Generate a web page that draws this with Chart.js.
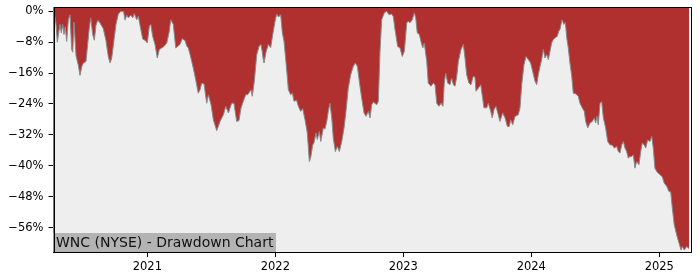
<!DOCTYPE html>
<html>
<head>
<meta charset="utf-8">
<script src="https://cdn.jsdelivr.net/npm/chart.js@4"></script>
<style>
html,body{margin:0;padding:0;background:#fff;}
canvas{display:block;}
</style>
</head>
<body>
<canvas id="c" width="700" height="280"></canvas>
<script>
// Dates as fractional years
const dates = [
2020.271,2020.279,2020.287,2020.297,2020.308,2020.318,2020.328,2020.339,2020.349,2020.359,
2020.370,2020.383,2020.396,2020.409,2020.417,2020.427,2020.443,2020.461,2020.474,2020.488,
2020.500,2020.521,2020.531,2020.547,2020.558,2020.573,2020.586,2020.599,2020.613,2020.630,
2020.656,2020.677,2020.695,2020.709,2020.722,2020.740,2020.755,2020.773,2020.792,2020.808,
2020.814,2020.826,2020.839,2020.852,2020.870,2020.886,2020.898,2020.917,2020.930,2020.948,
2020.964,2020.982,2021.000,2021.016,2021.027,2021.042,2021.060,2021.078,2021.094,2021.113,
2021.130,2021.152,2021.170,2021.183,2021.203,2021.222,2021.240,2021.255,2021.273,2021.295,
2021.308,2021.320,2021.334,2021.347,2021.359,2021.378,2021.398,2021.412,2021.425,2021.443,
2021.464,2021.477,2021.498,2021.516,2021.542,2021.555,2021.568,2021.594,2021.613,2021.633,
2021.659,2021.677,2021.698,2021.716,2021.732,2021.750,2021.769,2021.787,2021.810,2021.820,
2021.836,2021.855,2021.873,2021.888,2021.898,2021.906,2021.912,2021.927,2021.945,2021.964,
2021.980,2021.998,2022.011,2022.025,2022.042,2022.055,2022.068,2022.084,2022.102,2022.120,
2022.134,2022.146,2022.166,2022.180,2022.198,2022.214,2022.232,2022.250,2022.266,2022.277,
2022.292,2022.302,2022.318,2022.328,2022.344,2022.355,2022.375,2022.388,2022.402,2022.414,
2022.427,2022.441,2022.453,2022.469,2022.484,2022.500,2022.519,2022.537,2022.552,2022.570,
2022.589,2022.609,2022.625,2022.641,2022.656,2022.675,2022.693,2022.709,2022.727,2022.740,
2022.753,2022.766,2022.792,2022.805,2022.818,2022.831,2022.852,2022.870,2022.888,2022.909,
2022.922,2022.935,2022.956,2022.974,2022.992,2023.008,2023.027,2023.039,2023.052,2023.070,
2023.086,2023.097,2023.109,2023.125,2023.138,2023.152,2023.164,2023.183,2023.195,2023.216,
2023.234,2023.248,2023.261,2023.279,2023.295,2023.310,2023.320,2023.331,2023.347,2023.365,
2023.378,2023.391,2023.404,2023.417,2023.430,2023.451,2023.469,2023.482,2023.495,2023.513,
2023.529,2023.547,2023.560,2023.568,2023.586,2023.605,2023.620,2023.630,2023.652,2023.664,
2023.683,2023.695,2023.709,2023.724,2023.742,2023.755,2023.777,2023.795,2023.813,2023.828,
2023.839,2023.855,2023.873,2023.898,2023.912,2023.925,2023.943,2023.959,2023.977,2023.995,
2024.011,2024.029,2024.042,2024.055,2024.068,2024.081,2024.094,2024.107,2024.120,2024.133,
2024.146,2024.159,2024.172,2024.185,2024.203,2024.214,2024.224,2024.240,2024.255,2024.266,
2024.277,2024.289,2024.302,2024.316,2024.328,2024.349,2024.367,2024.380,2024.398,2024.414,
2024.425,2024.441,2024.459,2024.477,2024.492,2024.503,2024.513,2024.523,2024.537,2024.550,
2024.563,2024.581,2024.597,2024.615,2024.633,2024.648,2024.667,2024.680,2024.693,2024.706,
2024.719,2024.732,2024.745,2024.758,2024.771,2024.784,2024.797,2024.810,2024.823,2024.841,
2024.855,2024.867,2024.883,2024.894,2024.909,2024.927,2024.941,2024.953,2024.966,2024.980,
2025.005,2025.023,2025.039,2025.058,2025.076,2025.089,2025.102,2025.117,2025.136,2025.154,
2025.170,2025.180,2025.195,2025.214,2025.232
];
// Drawdown in percent
const drawdown = [
-0.4,-1.5,-3.4,-8.0,-5.5,-3.4,-5.6,-3.4,-6.0,-4.0,
-7.8,-2.2,-0.9,-9.9,-10.6,-2.8,-11.5,-14.0,-16.6,-14.3,
-13.4,-13.0,-9.5,-4.2,-1.7,-6.0,-7.5,-3.6,-2.3,-3.0,
-4.5,-7.6,-11.7,-13.4,-12.1,-7.3,-3.4,-0.8,0,-0.1,
0,-2.3,-1.0,-1.7,-1.0,-1.7,-0.6,-2.2,-1.3,-4.5,
-7.2,-7.5,-8.2,-3.8,-3.4,-6.5,-8.6,-12.1,-9.9,-9.5,
-9.1,-8.2,-5.5,-2.2,-3.4,-9.5,-9.0,-8.6,-7.1,-7.6,
-9.0,-9.5,-11.2,-13.0,-14.7,-17.7,-21.2,-20.3,-18.6,-18.8,
-23.8,-21.6,-24.2,-28.1,-30.9,-29.8,-28.5,-26.8,-24.6,-26.3,
-23.8,-23.8,-28.5,-28.3,-25.0,-23.3,-21.6,-21.5,-20.3,-22.0,
-18.1,-11.2,-9.1,-8.6,-10.5,-12.5,-13.4,-10.6,-8.6,-9.4,
-6.0,-2.6,-0.7,-1.5,-0.9,-5.6,-7.8,-13.4,-20.3,-21.6,
-21.2,-23.3,-23.0,-24.6,-25.9,-25.2,-28.1,-31.5,-38.9,-37.8,
-34.6,-34.0,-31.5,-33.2,-31.1,-33.7,-30.2,-30.5,-28.5,-25.9,
-23.8,-27.6,-32.8,-36.3,-35.0,-36.3,-33.7,-30.2,-25.9,-19.9,
-16.4,-14.3,-13.4,-14.3,-18.1,-22.5,-26.3,-27.2,-25.9,-27.6,
-24.2,-23.5,-24.2,-23.3,-10.4,-2.2,-0.4,0,-0.9,-0.7,
-1.4,-4.7,-9.1,-9.5,-11.7,-10.4,-3.0,-2.6,-3.0,-2.2,
-0.4,-1.7,-5.6,-6.0,-7.8,-9.5,-8.2,-13.0,-18.6,-19.4,
-18.6,-19.0,-23.8,-24.6,-23.8,-24.6,-18.6,-16.0,-18.6,-19.0,
-17.3,-19.0,-19.4,-17.0,-13.0,-9.9,-8.6,-12.1,-16.4,-18.6,
-19.0,-16.8,-17.0,-20.7,-19.9,-19.0,-22.5,-25.0,-25.0,-23.8,
-25.9,-27.6,-25.4,-24.6,-26.8,-28.5,-26.3,-27.6,-29.8,-29.8,
-28.1,-29.4,-27.2,-26.8,-25.0,-19.0,-13.8,-11.7,-12.5,-13.4,
-15.6,-18.1,-19.0,-16.4,-14.3,-12.5,-9.9,-12.1,-11.2,-12.5,
-10.4,-8.2,-7.3,-6.9,-6.5,-5.2,-4.7,-2.2,-3.4,-2.9,
-6.9,-9.5,-13.4,-16.8,-21.2,-21.4,-22.0,-23.8,-25.0,-25.9,
-28.5,-30.2,-28.9,-28.5,-27.6,-28.9,-27.2,-29.4,-23.8,-23.4,
-27.6,-30.2,-33.7,-34.6,-34.6,-35.4,-35.0,-36.3,-36.7,-34.6,
-33.7,-35.4,-36.3,-38.0,-37.6,-37.6,-37.2,-40.6,-38.9,-39.7,
-36.3,-34.1,-34.6,-35.4,-33.3,-33.7,-32.4,-35.4,-40.6,-41.5,
-42.3,-42.8,-44.5,-45.3,-46.7,-46.7,-51.0,-55.3,-57.9,-60.0,
-61.8,-60.9,-61.8,-60.9,-61.4
];
const xTicks = [2021, 2022, 2023, 2024, 2025];
const xTickLabels = ['2021', '2022', '2023', '2024', '2025'];
const yTicks = [0, -8, -16, -24, -32, -40, -48, -56];
const yTickLabels = ['0%', '\u22128%', '\u221216%', '\u221224%', '\u221232%', '\u221240%', '\u221248%', '\u221256%'];
const xRange = [2020.267, 2025.240];
const yRange = [-62.3, 1.1];
const titleText = 'WNC (NYSE) - Drawdown Chart';

const points = dates.map((d, i) => ({x: d, y: drawdown[i]}));

const bgPlugin = {
  id: 'bgPlugin',
  beforeDatasetsDraw(chart) {
    const {ctx, chartArea: a} = chart;
    ctx.save();
    ctx.fillStyle = '#eeeeee';
    ctx.fillRect(a.left, a.top, a.right - a.left, a.bottom - a.top);
    ctx.restore();
  },
  afterDatasetsDraw(chart) {
    const {ctx, chartArea: a} = chart;
    ctx.save();
    // title box
    ctx.font = '14px "DejaVu Sans"';
    const tw = ctx.measureText(titleText).width;
    const bh = 19;
    ctx.fillStyle = '#b3b3b3';
    ctx.fillRect(a.left, a.bottom - bh, tw + 5, bh);
    ctx.fillStyle = '#111';
    ctx.textBaseline = 'middle';
    ctx.textAlign = 'left';
    ctx.fillText(titleText, a.left + 2.5, a.bottom - bh / 2 + 0.5);
    // frame
    ctx.strokeStyle = '#000';
    ctx.lineWidth = 1;
    ctx.strokeRect(Math.round(a.left) + 0.5, Math.round(a.top) + 0.5,
      Math.round(a.right - a.left), Math.round(a.bottom - a.top));
    ctx.restore();
  }
};

new Chart(document.getElementById('c'), {
  type: 'line',
  data: {
    datasets: [{
      data: points,
      fill: 'end',
      backgroundColor: '#b03030',
      borderColor: '#8a8a8a',
      borderWidth: 1,
      pointRadius: 0,
      tension: 0
    }]
  },
  options: {
    responsive: false,
    animation: false,
    events: [],
    layout: {padding: {left: 0, right: 10, top: 7, bottom: 0}},
    plugins: {legend: {display: false}, tooltip: {enabled: false}},
    scales: {
      x: {
        type: 'linear',
        min: xRange[0],
        max: xRange[1],
        afterBuildTicks(s) { s.ticks = xTicks.map(v => ({value: v})); },
        afterFit(s) { s.height = 28; s.paddingLeft = 0; s.paddingRight = 0; },
        grid: {drawOnChartArea: false, drawTicks: true, tickLength: 5, color: '#000'},
        border: {display: true, color: '#000', width: 1},
        ticks: {
          color: '#000',
          font: {family: 'DejaVu Sans', size: 11.5},
          padding: 3,
          maxRotation: 0,
          autoSkip: false,
          callback: (v) => xTickLabels[xTicks.indexOf(v)]
        }
      },
      y: {
        type: 'linear',
        min: yRange[0],
        max: yRange[1],
        afterBuildTicks(s) { s.ticks = yTicks.map(v => ({value: v})); },
        afterFit(s) { s.width = 53.5; s.paddingTop = 0; s.paddingBottom = 0; },
        grid: {drawOnChartArea: false, drawTicks: true, tickLength: 5, color: '#000'},
        border: {display: true, color: '#000', width: 1},
        ticks: {
          color: '#000',
          font: {family: 'DejaVu Sans', size: 11.5},
          padding: 5,
          autoSkip: false,
          callback: (v) => yTickLabels[yTicks.indexOf(v)]
        }
      }
    }
  },
  plugins: [bgPlugin]
});
</script>
</body>
</html>
